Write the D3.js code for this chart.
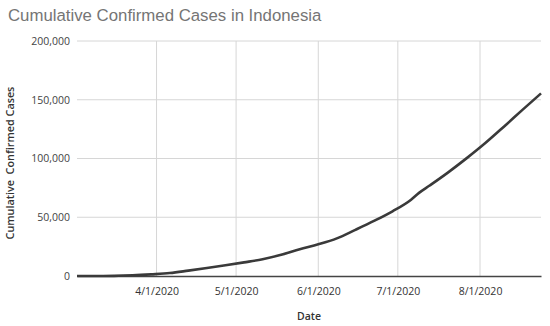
<!DOCTYPE html>
<html>
<head>
<meta charset="utf-8">
<script src="https://cdn.jsdelivr.net/npm/d3@7"></script>
<style>
  body { margin: 0; background: #fff; }
  svg { display: block; }
</style>
</head>
<body>
<svg id="chart" width="550" height="326"></svg>
<script>
// weekly cumulative confirmed cases
var dates = ["2020-03-02", "2020-03-09", "2020-03-16", "2020-03-23", "2020-03-30",
  "2020-04-06", "2020-04-13", "2020-04-20", "2020-04-27", "2020-05-04",
  "2020-05-11", "2020-05-18", "2020-05-25", "2020-06-01", "2020-06-08",
  "2020-06-15", "2020-06-22", "2020-06-29", "2020-07-06", "2020-07-09",
  "2020-07-13", "2020-07-20", "2020-07-27", "2020-08-03", "2020-08-10",
  "2020-08-17", "2020-08-24"];
var cases = [2, 19, 134, 579, 1414,
  2491, 4557, 6760, 9096, 11587,
  14265, 18010, 22750, 26940, 32033,
  39294, 46845, 55092, 64958, 70736,
  76981, 88214, 100303, 113134, 127083,
  141370, 155412];
var yTicks = [0, 50000, 100000, 150000, 200000];
var xTicks = ["2020-04-01", "2020-05-01", "2020-06-01", "2020-07-01", "2020-08-01"];

var parse = d3.timeParse("%Y-%m-%d");
var data = dates.map(function (d, i) { return { date: parse(d), value: cases[i] }; });

var margin = { top: 41, right: 9, bottom: 50, left: 77 };
var width = 550 - margin.left - margin.right;
var height = 326 - margin.top - margin.bottom;

var svg = d3.select("#chart");

var x = d3.scaleTime()
    .domain([parse("2020-03-02"), parse("2020-08-24")])
    .range([0, width]);
var y = d3.scaleLinear()
    .domain([0, 200000])
    .range([height, 0]);

var g = svg.append("g")
    .attr("transform", "translate(" + margin.left + "," + margin.top + ")");

// gridlines
g.append("g")
  .selectAll("line")
  .data(yTicks.filter(function (t) { return t > 0; }))
  .enter().append("line")
    .attr("x1", 0).attr("x2", width)
    .attr("y1", function (t) { return y(t); })
    .attr("y2", function (t) { return y(t); })
    .attr("stroke", "#d6d6d6").attr("stroke-width", 1);

g.append("g")
  .selectAll("line")
  .data(xTicks.map(parse))
  .enter().append("line")
    .attr("x1", function (t) { return x(t); })
    .attr("x2", function (t) { return x(t); })
    .attr("y1", 0).attr("y2", height)
    .attr("stroke", "#d6d6d6").attr("stroke-width", 1);

// y axis labels
var yAxis = g.append("g")
    .call(d3.axisLeft(y).tickValues(yTicks).tickSize(0).tickPadding(7).tickFormat(d3.format(",")));
yAxis.select(".domain").remove();
yAxis.selectAll("text")
    .style("font-family", "'Open Sans', sans-serif")
    .style("font-size", "10.5px")
    .attr("fill", "#444");

// x axis
var xAxis = g.append("g")
    .attr("transform", "translate(0," + height + ")")
    .call(d3.axisBottom(x).tickValues(xTicks.map(parse)).tickSize(0).tickPadding(12)
      .tickFormat(d3.timeFormat("%-m/%-d/%Y")));
xAxis.select(".domain").attr("stroke", "#444").attr("stroke-width", 1.3);
xAxis.selectAll("text")
    .style("font-family", "'Open Sans', sans-serif")
    .style("font-size", "10.5px")
    .attr("fill", "#333");

// line
var line = d3.line()
    .x(function (d) { return x(d.date); })
    .y(function (d) { return y(d.value); })
    .curve(d3.curveMonotoneX);

g.append("path")
    .datum(data)
    .attr("fill", "none")
    .attr("stroke", "#3a3a3a")
    .attr("stroke-width", 2.6)
    .attr("d", line);

// titles
svg.append("text")
    .attr("x", 8).attr("y", 21)
    .style("font-family", "'Liberation Sans', Arial, sans-serif")
    .style("font-size", "16.8px")
    .attr("fill", "#757575")
    .text("Cumulative Confirmed Cases in Indonesia");

svg.append("text")
    .attr("transform", "translate(14,163) rotate(-90)")
    .attr("text-anchor", "middle")
    .style("font-family", "'Open Sans', sans-serif")
    .style("font-size", "10.8px")
    .style("font-weight", "600")
    .attr("fill", "#333")
    .attr("xml:space", "preserve")
    .text("Cumulative  Confirmed Cases");

svg.append("text")
    .attr("x", margin.left + width / 2).attr("y", 320)
    .attr("text-anchor", "middle")
    .style("font-family", "'Open Sans', sans-serif")
    .style("font-size", "10.5px")
    .style("font-weight", "600")
    .attr("fill", "#333")
    .text("Date");
</script>
</body>
</html>
